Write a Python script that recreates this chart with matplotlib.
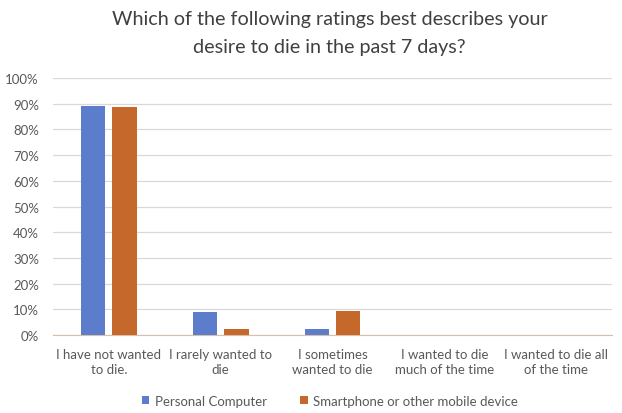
import matplotlib.pyplot as plt
import numpy as np

categories = ["I have not wanted\nto die.", "I rarely wanted to\ndie", "I sometimes\nwanted to die",
              "I wanted to die\nmuch of the time", "I wanted to die all\nof the time"]
pc = [89.2, 9.0, 2.5, 0, 0]
phone = [88.7, 2.5, 9.5, 0, 0]
yticks = np.arange(0, 101, 10)

plt.rcParams['font.family'] = ['Lato', 'DejaVu Sans']

fig = plt.figure(figsize=(6.22, 4.14), dpi=100)
ax = fig.add_axes([0.085, 0.188, 0.899, 0.621])

x = np.arange(len(categories))
w = 0.22
ax.bar(x - 0.14, pc, w, color="#5b7dcc", label="Personal Computer", zorder=3)
ax.bar(x + 0.14, phone, w, color="#c4682b", label="Smartphone or other mobile device", zorder=3)

ax.set_xlim(-0.5, len(categories) - 0.5)
ax.set_ylim(0, 100)
ax.set_yticks(yticks)
ax.set_yticklabels([f"{t}%" for t in yticks])
ax.set_xticks(x)
ax.set_xticklabels(categories, linespacing=1.35)
ax.yaxis.grid(True, color="#d9d9d9", lw=0.9, zorder=0)
ax.tick_params(length=0, labelsize=9.5, colors="#595959")
ax.tick_params(axis="x", pad=9)
ax.tick_params(axis="y", pad=10)
for s in ["top", "right", "left"]:
    ax.spines[s].set_visible(False)
ax.spines["bottom"].set_color("#d8c0a8")
ax.spines["bottom"].set_zorder(4)

fig.text(0.53, 0.952, "Which of the following ratings best describes your", ha="center", va="center",
         fontsize=14.2, color="#404040")
fig.text(0.53, 0.886, "desire to die in the past 7 days?", ha="center", va="center",
         fontsize=14.2, color="#404040")

fig.legend(loc="center", bbox_to_anchor=(0.53, 0.03), ncol=2, frameon=False, fontsize=9.5,
           handlelength=0.6, handleheight=0.6, columnspacing=2.5, handletextpad=0.4,
           labelcolor="#595959")

fig.savefig("out.png")
plt.close(fig)
